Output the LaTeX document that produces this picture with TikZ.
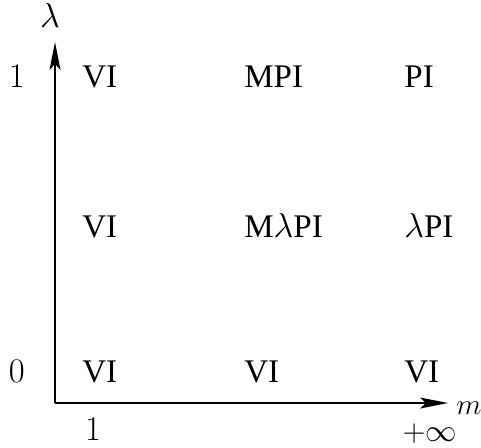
\documentclass[tikz,border=0pt]{standalone}
\usepackage{amssymb}
\usepackage{amsmath}
\usepackage{fontspec}
\setmainfont{Liberation Serif}
\usepackage{tikz}
\usetikzlibrary{calc}
\usetikzlibrary{arrows.meta}
\tikzstyle{every node}=[font=\fontsize{16.5}{19}\selectfont, inner sep=0pt]
\tikzstyle{axis}=[line width=0.8pt, -{Stealth[length=14pt,width=5.5pt,inset=3pt]}]
\tikzstyle{case}=[anchor=base west]

\begin{document}
\begin{tikzpicture}[x=0.5pt, y=0.5pt]
            \useasboundingbox (0,0) rectangle (481,447);
            \def\colA{82}
            \def\colB{244}
            \def\colC{404}
            \def\rowTop{360}
            \def\rowMid{210}
            \def\rowBot{65}

            \coordinate (O) at (55, 44);
            \coordinate (Ytip) at (55, 405);
            \coordinate (Xtip) at (448, 44);

            \draw [axis] (O) -- (Ytip);
            \draw [axis] (O) -- (Xtip);

            \node [anchor=base] (lam) at (50, 420) {$\lambda$};
            \node [anchor=base west] (m) at (456, 33) {\scalebox{0.85}{$m$}};
            \node [anchor=base east] (one) at (25, \rowTop) {$1$};
            \node [anchor=base east] (zero) at (25, \rowBot) {$0$};
            \node [anchor=base] (mone) at (93, 7) {$1$};
            \node [anchor=base] (minf) at (430, 6) {\scalebox{0.91}{$+\infty$}};

            \node [case] (vi1) at (\colA, \rowTop) {VI};
            \node [case] (mpi) at (\colB, \rowTop) {MPI};
            \node [case] (pi) at (\colC, \rowTop) {PI};

            \node [case] (vi2) at (\colA, \rowMid) {VI};
            \node [case] (mlpi) at (\colB, \rowMid) {M$\lambda$PI};
            \node [case] (lpi) at (\colC, \rowMid) {$\lambda$PI};

            \node [case] (vi3) at (\colA, \rowBot) {VI};
            \node [case] (vi4) at (\colB, \rowBot) {VI};
            \node [case] (vi5) at (\colC, \rowBot) {VI};
        \end{tikzpicture}
\end{document}
